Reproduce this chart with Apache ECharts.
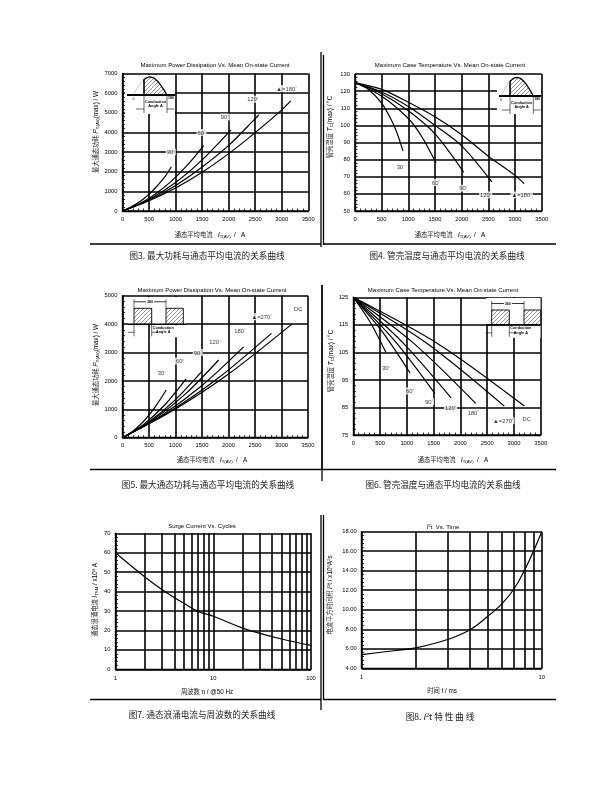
<!DOCTYPE html>
<html>
<head>
<meta charset="utf-8">
<script src="https://cdn.jsdelivr.net/npm/echarts@6.0.0/dist/echarts.min.js"></script>
<style>
html,body{margin:0;padding:0;background:#fff;}
#chart{width:612px;height:792px;}
</style>
</head>
<body>
<div id="chart"></div>
<script>
// ---------------- data ----------------
// Fig.3  max power dissipation vs mean on-state current (sine)   [I_T(AV) A, P W]
const fig3_30  = [[0,0],[200,260],[400,620],[600,1120],[800,1750],[920,2250]];
const fig3_60  = [[0,0],[300,340],[600,830],[900,1470],[1200,2270],[1530,3330]];
const fig3_90  = [[0,0],[500,590],[1000,1450],[1500,2600],[2045,4130]];
const fig3_120 = [[0,0],[500,550],[1000,1300],[1500,2240],[2000,3340],[2500,4700],[2570,4900]];
const fig3_180 = [[0,0],[500,520],[1000,1170],[1500,1970],[2000,2920],[2500,3990],[3000,5150],[3170,5610]];
const fig3Tags  = ['30','60','90','120','▲=180'];
const fig3TagAt = [[910,3000],[1490,4000],[1926,4780],[2455,5690],[3090,6230]];

// Fig.4  max case temperature vs mean on-state current (sine)   [A, °C]
const fig4_30  = [[0,125],[250,121],[500,113],[700,102],[800,94.5],[900,85]];
const fig4_60  = [[0,125],[500,117],[1000,104],[1250,93.5],[1520,78]];
const fig4_90  = [[0,125],[500,118.5],[1000,108.5],[1500,95],[2040,72.5]];
const fig4_120 = [[0,125],[500,119.5],[1000,111],[1500,100],[2000,88],[2565,67]];
const fig4_180 = [[0,125],[500,121],[1000,113.5],[1500,105],[2000,94.5],[2500,82],[3000,70.8],[3170,66]];
const fig4Tags  = ['30','60','90','120','▲=180'];
const fig4TagAt = [[856,75.7],[1519,66.6],[2031,63.3],[2450,59.4],[3125,59.4]];

// Fig.5  max power dissipation vs mean on-state current (rectangular)  [A, W]
const fig5_30  = [[0,0],[200,235],[400,580],[600,1040],[825,1680]];
const fig5_60  = [[0,0],[400,470],[800,1160],[1200,2070]];
const fig5_90  = [[0,0],[500,560],[1000,1340],[1510,2360]];
const fig5_120 = [[0,0],[600,660],[1200,1560],[1815,2735]];
const fig5_180 = [[0,0],[750,800],[1500,1840],[2285,3200]];
const fig5_270 = [[0,0],[900,930],[1800,2090],[2810,3675]];
const fig5_dc  = [[0,0],[1000,1010],[2000,2240],[3190,3990]];
const fig5Tags  = ['30','60','90','120','180','▲=270','DC'];
const fig5TagAt = [[740,2270],[1085,2700],[1420,3000],[1745,3370],[2215,3770],[2625,4260],[3315,4530]];

// Fig.6  max case temperature vs mean on-state current (rectangular)  [A, °C]
const fig6_30  = [[0,125],[300,116.5],[610,105]];
const fig6_60  = [[0,125],[530,112.8],[1060,97.5]];
const fig6_90  = [[0,125],[760,109.5],[1525,90]];
const fig6_120 = [[0,125],[910,108.8],[1825,88.5]];
const fig6_180 = [[0,125],[1140,108.1],[2285,86.5]];
const fig6_270 = [[0,125],[1410,107.8],[2820,85.5]];
const fig6_dc  = [[0,125],[1600,107.9],[3195,85.5]];
const fig6Tags  = ['30','60','90','120','180','▲=270','DC'];
const fig6TagAt = [[611,99.2],[1059,91],[1414,87.1],[1819,84.9],[2241,83.2],[2801,80.2],[3238,80.7]];

// Fig.7  surge current vs cycles
const cycles   = [1,2,3,5,7,10,20,30,50,100];
const surgeKA  = [60,47.5,41,34,29.8,27.3,21.2,18.5,15.6,12.3];
const cycleGridLines = [2,3,4,5,6,7,8,9,20,30,40,50,60,70,80,90];

// Fig.8  I2t vs time
const timeMs   = [1,1.5,2,3,4,5,6,7,8,9,10];
const i2tVal   = [5.4,5.8,6.1,6.95,7.95,9.3,10.6,12.1,14.0,16.0,18.0];
const timeGridLines = [2,3,4,5,6,7,8,9];

// ---------------- styling helpers ----------------
const SANS = 'Liberation Sans';
const CJK = 'Noto Sans CJK SC';
const INK = '#000';

function valueAxis(grid, min, max, interval, extra) {
  return Object.assign({
    type: 'value', gridIndex: grid, min, max, interval,
    axisLine: {show: true, onZero: false, lineStyle: {color: INK, width: 1.4}},
    axisTick: {show: false, inside: true},
    minorTick: {show: true, splitNumber: 5, length: 2.5, lineStyle: {color: INK, width: 0.8}},
    splitLine: {show: true, lineStyle: {color: INK, width: 1.6}},
    axisLabel: {color: INK, fontSize: 5.8, fontFamily: SANS, margin: 5, formatter: v => String(v)}
  }, extra || {});
}
function logAxis(grid, min, max) {
  return {
    type: 'log', logBase: 10, gridIndex: grid, min, max,
    axisLine: {show: true, onZero: false, lineStyle: {color: INK, width: 1.4}},
    axisTick: {show: false},
    minorTick: {show: false},
    splitLine: {show: true, lineStyle: {color: INK, width: 1.6}},
    axisLabel: {color: INK, fontSize: 5.8, fontFamily: SANS, margin: 6, formatter: v => String(v)}
  };
}
function curve(xi, data) {
  return {type: 'line', xAxisIndex: xi, yAxisIndex: xi, data, symbol: 'none', smooth: 0.3,
    lineStyle: {color: INK, width: 1.2}, silent: true, animation: false, z: 5};
}
function tagSeries(xi, tags, at) {
  return {type: 'scatter', xAxisIndex: xi, yAxisIndex: xi, symbolSize: 1, silent: true, animation: false, z: 8,
    itemStyle: {color: 'rgba(0,0,0,0)'},
    data: at,
    label: {show: true, position: 'inside', backgroundColor: '#fff', padding: [1, 1, 0, 1],
      formatter: p => tags[p.dataIndex] === 'DC' ? '{t|DC}' : '{t|' + tags[p.dataIndex] + '}{d|°}',
      rich: {t: {fontSize: 5.8, fontFamily: SANS, color: INK}, d: {fontSize: 4, fontFamily: SANS, color: INK, verticalAlign: 'top'}}}
  };
}
function gridMarks(xi, positions) {
  return {type: 'line', xAxisIndex: xi, yAxisIndex: xi, data: [], silent: true, animation: false,
    markLine: {silent: true, symbol: ['none', 'none'], label: {show: false}, animation: false,
      lineStyle: {color: INK, width: 1.6, type: 'solid'},
      data: positions.map(v => ({xAxis: v}))}};
}

const RICH = {
  c: {fontFamily: CJK, fontSize: 6.3, fill: '#222'},
  n: {fontFamily: SANS, fontSize: 6.3, fill: '#000'},
  ii: {fontFamily: SANS, fontSize: 7, fontStyle: 'italic', fill: '#000'},
  sub: {fontFamily: SANS, fontSize: 4.3, fill: '#000', verticalAlign: 'bottom'},
  sup: {fontFamily: SANS, fontSize: 4.3, fill: '#000', verticalAlign: 'top'},
  cap: {fontFamily: CJK, fontSize: 8.6, fill: '#222'},
  capi: {fontFamily: SANS, fontSize: 9, fontStyle: 'italic', fill: '#222'},
  capsup: {fontFamily: SANS, fontSize: 5.5, fill: '#222', verticalAlign: 'top'},
  ti: {fontFamily: SANS, fontSize: 6, fill: '#000'},
  tii: {fontFamily: SANS, fontSize: 6.5, fontStyle: 'italic', fill: '#000'},
  tsup: {fontFamily: SANS, fontSize: 4.2, fill: '#000', verticalAlign: 'top'}
};
function T(x, y, text, rot) {
  return {type: 'text', x, y, rotation: rot || 0, silent: true, z: 100,
    style: {text, rich: RICH, fill: '#000', fontSize: 6, fontFamily: SANS,
      align: 'center', verticalAlign: 'middle', textAlign: 'center', textVerticalAlign: 'middle'}};
}
function L(x1, y1, x2, y2, w, c) {
  return {type: 'line', silent: true, z: 101, shape: {x1, y1, x2, y2}, style: {stroke: c || INK, lineWidth: w || 1}};
}
function hatch() {
  const c = document.createElement('canvas'); c.width = 4; c.height = 4;
  const g = c.getContext('2d'); g.fillStyle = '#fff'; g.fillRect(0, 0, 4, 4);
  g.strokeStyle = '#666'; g.lineWidth = 0.7; g.beginPath(); g.moveTo(-1, 5); g.lineTo(5, -1); g.stroke();
  return {image: c, repeat: 'repeat'};
}
const HATCH = hatch();
function smallText(x, y, text, size, bold) {
  return {type: 'text', x, y, silent: true, z: 103,
    style: {text, fill: '#000', fontSize: size || 3.8, fontFamily: SANS, fontWeight: bold ? 'bold' : 'normal',
      align: 'center', verticalAlign: 'middle', textAlign: 'center', textVerticalAlign: 'middle'}};
}
// sine-wave conduction-angle inset (decorative sketch)
function sineInset(bx0, by0, bx1, by1, x0, x1, xs, yb, amp) {
  const els = [];
  els.push({type: 'rect', silent: true, z: 100, shape: {x: bx0, y: by0, width: bx1 - bx0, height: by1 - by0}, style: {fill: '#fff'}});
  const full = [], lit = [], poly = [[xs, yb]];
  for (let i = 0; i <= 40; i++) {
    const x = x0 + (x1 - x0) * i / 40, y = yb - amp * Math.sin(Math.PI * i / 40);
    if (x <= xs + 0.01) full.push([x, y]);
    if (x >= xs - (x1 - x0) / 40) { lit.push([x, y]); poly.push([Math.max(x, xs), y]); }
  }
  poly.push([x1, yb]);
  els.push({type: 'polygon', silent: true, z: 101, shape: {points: poly}, style: {fill: HATCH}});
  els.push({type: 'polyline', silent: true, z: 102, shape: {points: full}, style: {stroke: '#888', lineWidth: 0.5, fill: null}});
  els.push({type: 'polyline', silent: true, z: 102, shape: {points: lit}, style: {stroke: INK, lineWidth: 1.3, fill: null}});
  els.push(L(bx0 + 2, yb, bx1, yb, 2));
  const ys = yb - amp * Math.sin(Math.PI * (xs - x0) / (x1 - x0));
  els.push(L(xs, yb, xs, ys, 1.6));
  els.push(L(xs, yb, xs, yb + 18, 0.6));
  els.push(L(x1, yb, x1, yb + 18, 0.6));
  els.push(L(xs - 8, yb + 14, xs, yb + 14, 0.6));
  els.push(L(x1, yb + 14, x1 + 7, yb + 14, 0.6));
  els.push(smallText(x0 + 0.5, yb + 4, '0', 3.5));
  els.push(smallText(x1 + 4, yb + 3, '180', 3.5, true));
  els.push(smallText((xs + x1) / 2, yb + 6.5, 'Conduction', 3.8, true));
  els.push(smallText((xs + x1) / 2, yb + 11, 'Angle A', 3.8, true));
  return els;
}
// rectangular-wave inset (decorative sketch)
function rectInset(bx0, by0, bx1, r1x0, r1x1, r2x0, r2x1, rtop, yb) {
  const els = [];
  els.push({type: 'rect', silent: true, z: 100, shape: {x: bx0, y: by0, width: bx1 - bx0, height: yb - by0}, style: {fill: '#fff'}});
  els.push({type: 'rect', silent: true, z: 100, shape: {x: r1x1 + 2, y: yb + 1, width: bx1 - r1x1 - 2, height: 12}, style: {fill: '#fff'}});
  [[r1x0, r1x1], [r2x0, r2x1]].forEach(([a, b]) => {
    els.push({type: 'rect', silent: true, z: 101, shape: {x: a, y: rtop, width: b - a, height: yb - rtop}, style: {fill: HATCH, stroke: INK, lineWidth: 0.9}});
  });
  els.push(L(bx0, yb, bx1, yb, 1.6));
  const yd = rtop - 6.5;
  els.push(L(r1x0, yd, r2x0, yd, 0.8));
  els.push(L(r1x0, yd - 2.5, r1x0, rtop, 0.6));
  els.push(L(r2x0, yd - 2.5, r2x0, rtop, 0.6));
  els.push({type: 'text', x: (r1x0 + r2x0) / 2, y: yd, silent: true, z: 104,
    style: {text: '360', fill: '#000', fontSize: 3.6, fontWeight: 'bold', fontFamily: SANS, backgroundColor: '#fff', padding: [0, 1],
      align: 'center', verticalAlign: 'middle', textAlign: 'center', textVerticalAlign: 'middle'}});
  els.push(L(r1x0, yb, r1x0, yb + 12, 0.6));
  els.push(L(r1x1, yb, r1x1, yb + 12, 0.6));
  els.push(L(r1x0 - 6, yb + 8, r1x0, yb + 8, 0.6));
  els.push(L(r1x1, yb + 8, r1x1 + 6, yb + 8, 0.6));
  els.push(smallText(r1x1 + 11.5, yb + 3.5, 'Conduction', 3.8, true));
  els.push(smallText(r1x1 + 11.5, yb + 8, 'Angle A', 3.8, true));
  return els;
}

// ---------------- option ----------------
const grids = [
  {left: 122.5, top: 73.5, width: 185.8, height: 137.5},
  {left: 355, top: 74, width: 186.7, height: 137},
  {left: 122.5, top: 295.7, width: 185.5, height: 142},
  {left: 353.3, top: 297.3, width: 187.4, height: 137.7},
  {left: 115.5, top: 533.3, width: 195.5, height: 136},
  {left: 361.7, top: 531.7, width: 180, height: 136.6}
].map(g => Object.assign({outerBoundsMode: 'none', containLabel: false}, g));

const xAxes = [
  valueAxis(0, 0, 3500, 500),
  valueAxis(1, 0, 3500, 500),
  valueAxis(2, 0, 3500, 500),
  valueAxis(3, 0, 3500, 500),
  logAxis(4, 1, 100),
  logAxis(5, 1, 10)
];
const yAxes = [
  valueAxis(0, 0, 7000, 1000),
  valueAxis(1, 50, 130, 10),
  valueAxis(2, 0, 5000, 1000),
  valueAxis(3, 75, 125, 10),
  valueAxis(4, 0, 70, 10),
  valueAxis(5, 4, 18, 2, {axisLabel: {color: INK, fontSize: 5.8, fontFamily: SANS, margin: 5, formatter: v => v.toFixed(2)}})
];

const series = [
  curve(0, fig3_30), curve(0, fig3_60), curve(0, fig3_90), curve(0, fig3_120), curve(0, fig3_180),
  curve(1, fig4_30), curve(1, fig4_60), curve(1, fig4_90), curve(1, fig4_120), curve(1, fig4_180),
  curve(2, fig5_30), curve(2, fig5_60), curve(2, fig5_90), curve(2, fig5_120), curve(2, fig5_180), curve(2, fig5_270), curve(2, fig5_dc),
  curve(3, fig6_30), curve(3, fig6_60), curve(3, fig6_90), curve(3, fig6_120), curve(3, fig6_180), curve(3, fig6_270), curve(3, fig6_dc),
  Object.assign(curve(4, cycles.map((c, i) => [c, surgeKA[i]])), {smooth: 0.4}),
  Object.assign(curve(5, timeMs.map((t, i) => [t, i2tVal[i]])), {smooth: 0.4}),
  gridMarks(4, cycleGridLines),
  gridMarks(5, timeGridLines),
  tagSeries(0, fig3Tags, fig3TagAt),
  tagSeries(1, fig4Tags, fig4TagAt),
  tagSeries(2, fig5Tags, fig5TagAt),
  tagSeries(3, fig6Tags, fig6TagAt)
];

const TITLE_P = 'Maximum Power Dissipation Vs. Mean On-state Current';
const TITLE_T = 'Maximum Case Temperature Vs. Mean On-state Current';
const XNAME_I = '{c|通态平均电流}{n|   }{ii|I}{sub|T(AV)}{n|  /   A}';
const YNAME_P = '{c|最大通态功耗 }{ii|P}{sub|T(AV)}{n|(max) / W}';
const YNAME_T = '{c|管壳温度 }{ii|T}{sub|C}{n|(max) / °C}';
const R90 = Math.PI / 2;

const graphics = [
  // titles
  T(215, 65, TITLE_P), T(450, 65, TITLE_T), T(212, 290, TITLE_P), T(443, 290, TITLE_T),
  T(202, 526, 'Surge Current Vs. Cycles'),
  T(443, 527, '{tii|I}{tsup|2}{ti|t  Vs. Time}'),
  // x axis names
  T(210, 235, XNAME_I), T(450, 235, XNAME_I), T(212, 460, XNAME_I), T(453, 460, XNAME_I),
  T(207, 692, '{c|周波数}{n| n / @50 Hz}'),
  T(442, 691, '{c|时间}{n| t / ms}'),
  // y axis names
  T(96, 132, YNAME_P, R90), T(330, 127, YNAME_T, R90),
  T(96, 365, YNAME_P, R90), T(331, 361, YNAME_T, R90),
  T(95, 600, '{c|通态浪涌电流 }{ii|I}{sub|TSM}{n| / x10}{sup|3}{n| A}', R90),
  T(330, 595, '{c|电流平方时间积 }{ii|I}{sup|2}{n|t / x10}{sup|6}{n|A}{sup|2}{n|s}', R90),
  // captions
  T(207, 256, '{cap|图3. 最大功耗与通态平均电流的关系曲线}'),
  T(447, 256, '{cap|图4. 管壳温度与通态平均电流的关系曲线}'),
  T(208, 485, '{cap|图5. 最大通态功耗与通态平均电流的关系曲线}'),
  T(443, 485, '{cap|图6. 管壳温度与通态平均电流的关系曲线}'),
  T(202, 715, '{cap|图7. 通态浪涌电流与周波数的关系曲线}'),
  T(440, 717, '{cap|图8. }{capi|I}{capsup|2}{cap|t 特 性 曲 线}'),
  // panel frames
  L(90, 244, 321, 244, 1.3), L(321, 52, 321, 247, 1.3),
  L(323.5, 55, 323.5, 245, 1.3), L(323.5, 244, 556, 244, 1.3),
  L(90, 469.5, 322, 469.5, 1.3), L(322, 285, 322, 481, 1.3),
  L(322, 285, 322, 470, 1.3), L(322, 469.5, 556, 469.5, 1.3),
  L(90, 699.5, 321, 699.5, 1.3), L(321, 515, 321, 710, 1.3),
  L(323.5, 515, 323.5, 700, 1.3), L(323.5, 699.5, 556, 699.5, 1.3)
]
  .concat(sineInset(125, 75, 175, 114, 133, 167, 144, 95, 18))
  .concat(sineInset(497, 75, 541, 114, 500.7, 533.3, 510, 96, 18.5))
  .concat(rectInset(128, 297, 186, 134, 151.7, 166, 183.3, 308.3, 324.3))
  .concat(rectInset(486, 298, 540.5, 491.7, 509.3, 524, 540.7, 310, 324.8));

const option = {
  animation: false,
  backgroundColor: '#fff',
  grid: grids,
  xAxis: xAxes,
  yAxis: yAxes,
  series,
  graphic: {elements: graphics}
};

const chart = echarts.init(document.getElementById('chart'), null, {renderer: 'canvas'});
chart.setOption(option);
</script>
</body>
</html>
